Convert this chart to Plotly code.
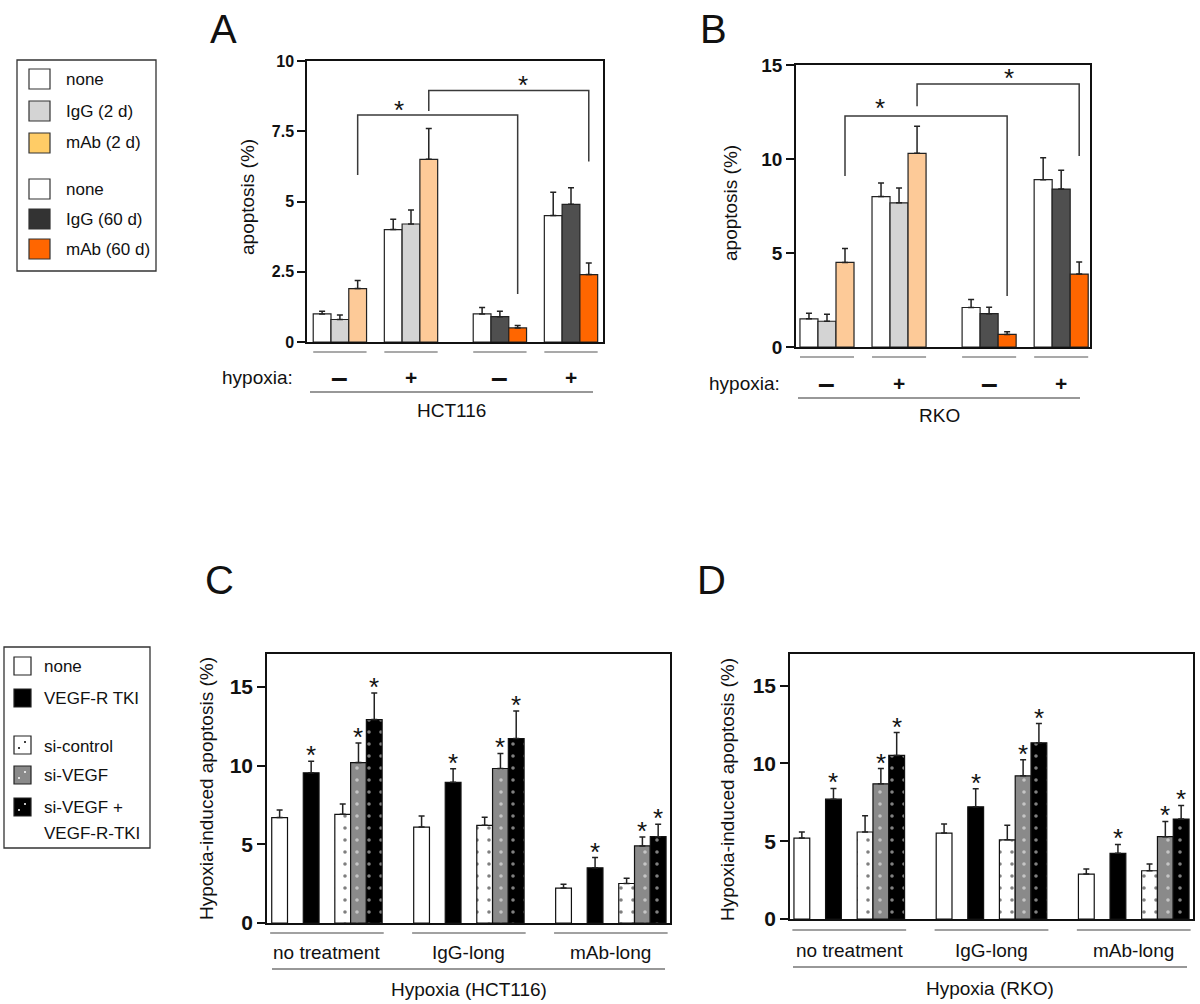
import plotly.graph_objects as go

W, H = 1200, 1004
FONT = "Liberation Sans, Arial, sans-serif"

# ---------------- DATA ----------------
# Panel A (HCT116) : groups = hypoxia -, +, -, +
A_hypoxia = ["–", "+", "–", "+"]
A_none = [1.0, 4.0, 1.0, 4.5]
A_none_err = [0.09, 0.37, 0.23, 0.83]
A_igg = [0.8, 4.2, 0.9, 4.9]
A_igg_err = [0.16, 0.5, 0.19, 0.59]
A_mab = [1.9, 6.5, 0.5, 2.4]
A_mab_err = [0.29, 1.1, 0.09, 0.41]
A_yticks = [0, 2.5, 5, 7.5, 10]
A_yticklabels = ["0", "2.5", "5", "7.5", "10"]
A_cell = "HCT116"

# Panel B (RKO)
B_hypoxia = ["–", "+", "–", "+"]
B_none = [1.5, 8.0, 2.1, 8.9]
B_none_err = [0.3, 0.72, 0.43, 1.17]
B_igg = [1.37, 7.67, 1.77, 8.4]
B_igg_err = [0.37, 0.79, 0.35, 1.0]
B_mab = [4.5, 10.3, 0.67, 3.88]
B_mab_err = [0.74, 1.44, 0.14, 0.64]
B_yticks = [0, 5, 10, 15]
B_yticklabels = ["0", "5", "10", "15"]
B_cell = "RKO"

# Panel C (HCT116) groups
CD_groups = ["no treatment", "IgG-long", "mAb-long"]
C_none = [6.7, 6.1, 2.22]
C_none_err = [0.48, 0.7, 0.25]
C_tki = [9.55, 8.94, 3.51]
C_tki_err = [0.74, 0.86, 0.65]
C_sictrl = [6.91, 6.21, 2.51]
C_sictrl_err = [0.65, 0.51, 0.34]
C_sivegf = [10.2, 9.82, 4.9]
C_sivegf_err = [1.25, 0.96, 0.57]
C_combo = [12.93, 11.73, 5.49]
C_combo_err = [1.69, 1.75, 0.78]

# Panel D (RKO)
D_none = [5.2, 5.52, 2.89]
D_none_err = [0.39, 0.58, 0.32]
D_tki = [7.7, 7.21, 4.22]
D_tki_err = [0.69, 1.16, 0.57]
D_sictrl = [5.59, 5.09, 3.1]
D_sictrl_err = [1.04, 0.94, 0.43]
D_sivegf = [8.69, 9.2, 5.29]
D_sivegf_err = [0.98, 1.03, 0.98]
D_combo = [10.51, 11.32, 6.42]
D_combo_err = [1.47, 1.24, 0.88]
CD_yticks = [0, 5, 10, 15]
CD_yticklabels = ["0", "5", "10", "15"]

legend1_labels = ["none", "IgG (2 d)", "mAb (2 d)", "none", "IgG (60 d)", "mAb (60 d)"]
legend2_labels = ["none", "VEGF-R TKI", "si-control", "si-VEGF", "si-VEGF +", "VEGF-R-TKI"]

# ---------------- STYLE / LAYOUT ----------------
C_WHITE = "#ffffff"
C_IGG2 = "#d4d4d4"
C_MAB2 = "#fdca98"
C_IGG60 = "#4f4f4f"
C_MAB60 = "#ff6600"
C_LEG_MAB2 = "#ffcc66"
C_LEG_IGG60 = "#333333"
C_SIVEGF = "#8a8a8a"

panels = {
    "A": dict(n="", px=(307, 603), py=(61, 342), xr=(-0.85, 15.8), yr=(0, 10)),
    "B": dict(n="2", px=(796, 1090), py=(65, 347), xr=(-0.72, 15.6), yr=(0, 15)),
    "C": dict(n="3", px=(267, 670), py=(654, 923), xr=(-0.8, 24.75), yr=(0, 17.1)),
    "D": dict(n="4", px=(790, 1193), py=(654, 919), xr=(-0.75, 24.75), yr=(0, 17.03)),
}


def X(px):
    return px / W


def Y(py):
    return 1 - py / H


def slot_to_px(p, s):
    P = panels[p]
    x0, x1 = P["px"]
    r0, r1 = P["xr"]
    return x0 + (s - r0) / (r1 - r0) * (x1 - x0)


fig = go.Figure()
shapes = []
annotations = []


def add_bars(p, slots, vals, errs, color, line_color="#222222", pattern=None):
    n = panels[p]["n"]
    marker = dict(color=color, line=dict(color=line_color, width=1.2))
    if pattern is not None:
        marker["pattern"] = pattern
    fig.add_trace(go.Bar(
        x=slots, y=vals, width=1.0, marker=marker,
        error_y=dict(type="data", symmetric=False, array=errs,
                     arrayminus=[0] * len(errs), color="#222222",
                     thickness=1.5, width=3),
        xaxis="x" + n, yaxis="y" + n, showlegend=False, hoverinfo="y"))


# ---- Panels A & B ----
AB_group_offsets = [0, 4, 9, 13]
for p, none, none_e, igg, igg_e, mab, mab_e in [
        ("A", A_none, A_none_err, A_igg, A_igg_err, A_mab, A_mab_err),
        ("B", B_none, B_none_err, B_igg, B_igg_err, B_mab, B_mab_err)]:
    igg_cols = [C_IGG2, C_IGG2, C_IGG60, C_IGG60]
    mab_cols = [C_MAB2, C_MAB2, C_MAB60, C_MAB60]
    add_bars(p, [g + 0 for g in AB_group_offsets], none, none_e, C_WHITE)
    add_bars(p, [g + 1 for g in AB_group_offsets], igg, igg_e, igg_cols)
    add_bars(p, [g + 2 for g in AB_group_offsets], mab, mab_e, mab_cols)

# significance brackets (slot from, slot to, y left leg, y top, y right leg, star slot, star y)
A_brackets = [(2, 11, 5.94, 8.08, 1.71, 4.35, 8.43), (6, 15, 8.22, 8.95, 6.42, 11.3, 9.32)]
B_brackets = [(2, 11, 9.1, 12.29, 2.71, 3.94, 12.98), (6, 15, 12.8, 13.99, 10.16, 11.1, 14.57)]
for p, brs in [("A", A_brackets), ("B", B_brackets)]:
    n = panels[p]["n"]
    for (s0, s1, yl, yt, yr_, sx, sy) in brs:
        shapes.append(dict(type="path", xref="x" + n, yref="y" + n,
                           path=f"M {s0},{yl} L {s0},{yt} L {s1},{yt} L {s1},{yr_}",
                           line=dict(color="#3a3a3a", width=1.5)))
        annotations.append(dict(xref="x" + n, yref="y" + n, x=sx, y=sy, text="*",
                                showarrow=False, yanchor="middle", yshift=-5,
                                font=dict(size=26, color="#111", family=FONT)))

# ---- Panels C & D ----
CD_group_offsets = [0, 9, 18]
CD_series_offsets = [0, 2, 4, 5, 6]
dot_black = dict(shape=".", fgcolor="#000000", size=12, solidity=0.07)
dot_white = dict(shape=".", fgcolor="#ffffff", size=12, solidity=0.07)
for p, data in [("C", [(C_none, C_none_err), (C_tki, C_tki_err), (C_sictrl, C_sictrl_err),
                       (C_sivegf, C_sivegf_err), (C_combo, C_combo_err)]),
                ("D", [(D_none, D_none_err), (D_tki, D_tki_err), (D_sictrl, D_sictrl_err),
                       (D_sivegf, D_sivegf_err), (D_combo, D_combo_err)])]:
    styles = [(C_WHITE, None), ("#000000", None), (C_WHITE, dot_black),
              (C_SIVEGF, dot_white), ("#000000", dot_white)]
    n = panels[p]["n"]
    for k, ((vals, errs), (col, pat)) in enumerate(zip(data, styles)):
        slots = [g + CD_series_offsets[k] for g in CD_group_offsets]
        add_bars(p, slots, vals, errs, col, line_color="#111111", pattern=pat)
        if k in (1, 3, 4):
            for s, v, e in zip(slots, vals, errs):
                annotations.append(dict(xref="x" + n, yref="y" + n, x=s, y=v + e, text="*",
                                        showarrow=False, yanchor="middle", yshift=6,
                                        font=dict(size=26, color="#111", family=FONT)))

# ---- axes ----
layout_axes = {}
tick_sizes = {"A": 16, "B": 19, "C": 21, "D": 21}
ticks = {"A": (A_yticks, A_yticklabels), "B": (B_yticks, B_yticklabels),
         "C": (CD_yticks, CD_yticklabels), "D": (CD_yticks, CD_yticklabels)}
for p, P in panels.items():
    n = P["n"]
    layout_axes["xaxis" + n] = dict(
        domain=[X(P["px"][0]), X(P["px"][1])], range=list(P["xr"]), anchor="y" + n,
        showline=True, mirror=True, linecolor="#111", linewidth=1.5,
        showticklabels=False, ticks="", showgrid=False, zeroline=False,
        fixedrange=True, automargin=False)
    tv, tt = ticks[p]
    layout_axes["yaxis" + n] = dict(
        domain=[Y(P["py"][1]), Y(P["py"][0])], range=list(P["yr"]), anchor="x" + n,
        showline=True, mirror=True, linecolor="#111", linewidth=1.5,
        ticks="outside", ticklen=8, tickwidth=1.5, tickcolor="#111",
        tickvals=tv, ticktext=tt,
        tickfont=dict(size=tick_sizes[p], family=FONT, color="#111", weight="bold"),
        showgrid=False, zeroline=False, fixedrange=True, automargin=False)


def hline(x0, x1, y, color="#444", width=1.2):
    shapes.append(dict(type="line", xref="paper", yref="paper",
                       x0=X(x0), x1=X(x1), y0=Y(y), y1=Y(y),
                       line=dict(color=color, width=width)))


def text(x, y, s, size=19, xanchor="center", angle=0, color="#111", bold=False):
    annotations.append(dict(xref="paper", yref="paper", x=X(x), y=Y(y), text=s,
                            showarrow=False, xanchor=xanchor, yanchor="middle",
                            textangle=angle,
                            font=dict(size=size, family=FONT, color=color,
                                      weight="bold" if bold else "normal")))


# ---- below-axis decorations A/B ----
AB_deco = {
    "A": dict(under=352, hyp=377, hyp_x=220, long=(310, 593, 392), cell_y=410,
              labels=A_hypoxia, cell=A_cell),
    "B": dict(under=357, hyp=383, hyp_x=707, long=(798, 1080, 398), cell_y=415,
              labels=B_hypoxia, cell=B_cell),
}
for p, d in AB_deco.items():
    for g, lab in zip(AB_group_offsets, d["labels"]):
        hline(slot_to_px(p, g - 0.5), slot_to_px(p, g + 2.5), d["under"], color="#555")
        text(slot_to_px(p, g + 1), d["hyp"], lab, size=(30 if lab == "–" else 21), bold=True)
    text(d["hyp_x"], d["hyp"], "hypoxia:", size=19, xanchor="left")
    hline(d["long"][0], d["long"][1], d["long"][2], color="#333")
    text((d["long"][0] + d["long"][1]) / 2 - 0, d["cell_y"], d["cell"], size=19)

# ---- below-axis decorations C/D ----
CD_deco = {
    "C": dict(under=933, lab=952, long=(272, 665, 969), title_y=989, title="Hypoxia (HCT116)"),
    "D": dict(under=930, lab=950, long=(793, 1187, 967), title_y=988, title="Hypoxia (RKO)"),
}
for p, d in CD_deco.items():
    for g, lab in zip(CD_group_offsets, CD_groups):
        hline(slot_to_px(p, g - 0.6), slot_to_px(p, g + 6.6), d["under"], color="#444")
        text(slot_to_px(p, g + 3), d["lab"], lab, size=19)
    hline(d["long"][0], d["long"][1], d["long"][2], color="#333")
    text((d["long"][0] + d["long"][1]) / 2, d["title_y"], d["title"], size=19)

# axis titles
text(247, 197, "apoptosis (%)", size=19, angle=-90)
text(730, 203, "apoptosis (%)", size=19, angle=-90)
text(206, 789, "Hypoxia-induced apoptosis (%)", size=19, angle=-90)
text(727, 790, "Hypoxia-induced apoptosis (%)", size=19, angle=-90)

# panel letters
text(223, 29, "A", size=40)
text(713, 29, "B", size=40)
text(220, 580, "C", size=40)
text(711, 580, "D", size=40)


# ---- legend 1 ----
def rect(x0, y0, x1, y1, fill, line="#333", lw=1.2):
    shapes.append(dict(type="rect", xref="paper", yref="paper",
                       x0=X(x0), x1=X(x1), y0=Y(y1), y1=Y(y0),
                       fillcolor=fill, line=dict(color=line, width=lw)))


def dot(x, y, color, r=1.0):
    shapes.append(dict(type="circle", xref="paper", yref="paper",
                       x0=X(x - r), x1=X(x + r), y0=Y(y + r), y1=Y(y - r),
                       fillcolor=color, line=dict(width=0)))


rect(17, 60, 156, 271, "rgba(0,0,0,0)", line="#333", lw=1.3)
leg1_rows = [79, 111, 143, 189, 219, 249]
leg1_cols = [C_WHITE, C_IGG2, C_LEG_MAB2, C_WHITE, C_LEG_IGG60, C_MAB60]
for yc, col, lab in zip(leg1_rows, leg1_cols, legend1_labels):
    rect(29, yc - 10, 50, yc + 10, col)
    text(64, yc, lab, size=17, xanchor="left")

# ---- legend 2 ----
rect(4, 647, 150, 848, "rgba(0,0,0,0)", line="#333", lw=1.3)
leg2_rows = [666, 698, 745, 775, 807]
leg2_cols = [C_WHITE, "#000000", C_WHITE, C_SIVEGF, "#000000"]
leg2_dots = [None, None, "#000000", "#ffffff", "#ffffff"]
for yc, col, dc in zip(leg2_rows, leg2_cols, leg2_dots):
    rect(14, yc - 9, 31, yc + 9, col, line="#222")
    if dc:
        dot(19, yc + 3, dc)
        dot(25, yc - 3, dc)
leg2_text_rows = [666, 698, 746, 775, 807, 833]
for yc, lab in zip(leg2_text_rows, legend2_labels):
    text(42, yc, lab, size=17, xanchor="left")

fig.update_layout(
    width=W, height=H,
    margin=dict(l=0, r=0, t=0, b=0, pad=0, autoexpand=False),
    paper_bgcolor="white", plot_bgcolor="white",
    barmode="overlay", showlegend=False,
    shapes=shapes, annotations=annotations,
    font=dict(family=FONT, color="#111"),
    **layout_axes)

fig.write_html("out.html", config={"displayModeBar": False},
               post_script="document.body.style.margin='0';document.body.style.overflow='hidden';")
